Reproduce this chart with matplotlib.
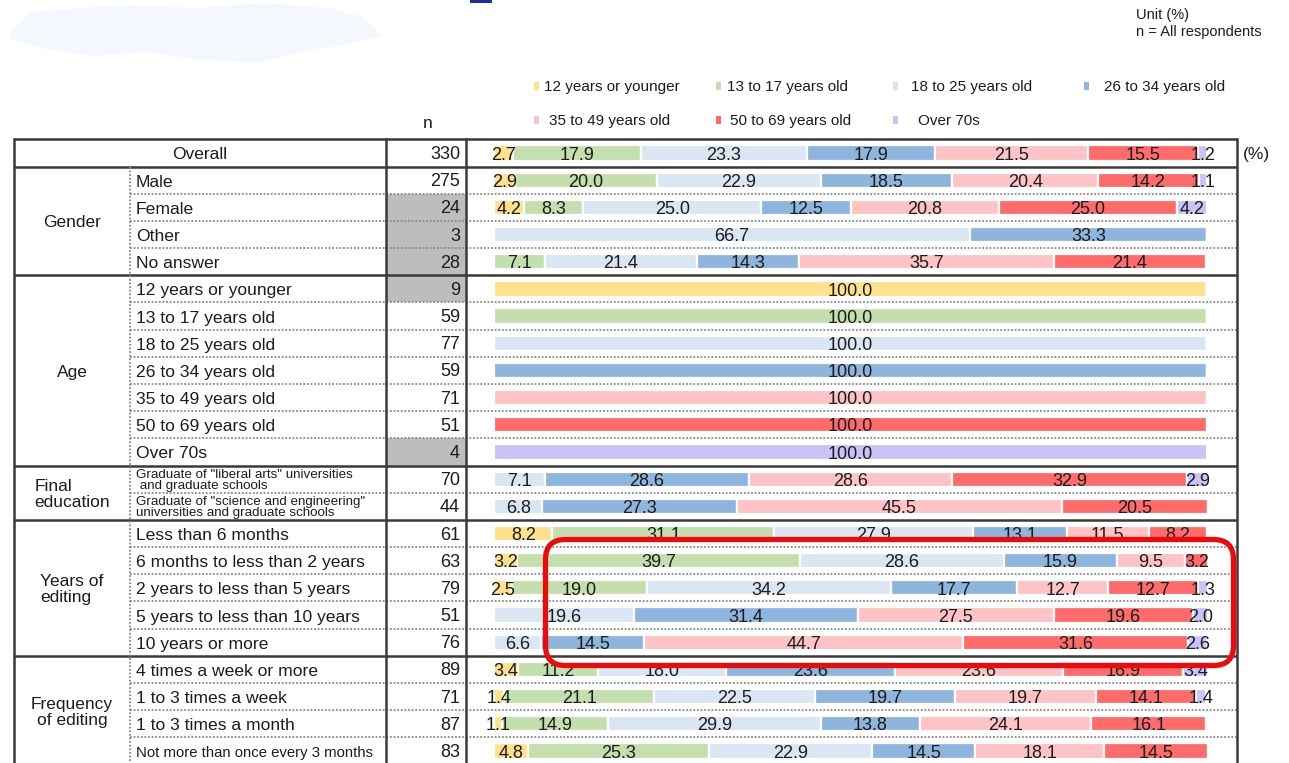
import numpy as np
import matplotlib.pyplot as plt
import matplotlib.patches as patches

plt.rcParams['font.family'] = ['Liberation Sans', 'DejaVu Sans']

# legend / series
categories = ['12 years or younger', '13 to 17 years old', '18 to 25 years old',
              '26 to 34 years old', '35 to 49 years old', '50 to 69 years old', 'Over 70s']
colors = ['#ffe08c', '#c4dfae', '#dae6f4', '#8eb5de', '#ffc3c6', '#ff6b6b', '#c8c3f8']

# table rows
groups = [('', 1), ('Gender', 4), ('Age', 7), ('Final\neducation', 2),
          ('Years of\nediting', 5), ('Frequency\nof editing', 4)]
row_labels = ['Overall', 'Male', 'Female', 'Other', 'No answer',
              '12 years or younger', '13 to 17 years old', '18 to 25 years old',
              '26 to 34 years old', '35 to 49 years old', '50 to 69 years old', 'Over 70s',
              'Graduate of "liberal arts" universities\n and graduate schools',
              'Graduate of "science and engineering"\nuniversities and graduate schools',
              'Less than 6 months', '6 months to less than 2 years',
              '2 years to less than 5 years', '5 years to less than 10 years',
              '10 years or more', '4 times a week or more', '1 to 3 times a week',
              '1 to 3 times a month', 'Not more than once every 3 months']
n_values = [330, 275, 24, 3, 28, 9, 59, 77, 59, 71, 51, 4, 70, 44,
            61, 63, 79, 51, 76, 89, 71, 87, 83]
shaded_n = [2, 3, 4, 5, 11]

shares = [
    [2.7, 17.9, 23.3, 17.9, 21.5, 15.5, 1.2],
    [2.9, 20.0, 22.9, 18.5, 20.4, 14.2, 1.1],
    [4.2, 8.3, 25.0, 12.5, 20.8, 25.0, 4.2],
    [0, 0, 66.7, 33.3, 0, 0, 0],
    [0, 7.1, 21.4, 14.3, 35.7, 21.4, 0],
    [100.0, 0, 0, 0, 0, 0, 0],
    [0, 100.0, 0, 0, 0, 0, 0],
    [0, 0, 100.0, 0, 0, 0, 0],
    [0, 0, 0, 100.0, 0, 0, 0],
    [0, 0, 0, 0, 100.0, 0, 0],
    [0, 0, 0, 0, 0, 100.0, 0],
    [0, 0, 0, 0, 0, 0, 100.0],
    [0, 0, 7.1, 28.6, 28.6, 32.9, 2.9],
    [0, 0, 6.8, 27.3, 45.5, 20.5, 0],
    [8.2, 31.1, 27.9, 13.1, 11.5, 8.2, 0],
    [3.2, 39.7, 28.6, 15.9, 9.5, 3.2, 0],
    [2.5, 19.0, 34.2, 17.7, 12.7, 12.7, 1.3],
    [0, 0, 19.6, 31.4, 27.5, 19.6, 2.0],
    [0, 0, 6.6, 14.5, 44.7, 31.6, 2.6],
    [3.4, 11.2, 18.0, 23.6, 23.6, 16.9, 3.4],
    [1.4, 21.1, 22.5, 19.7, 19.7, 14.1, 1.4],
    [1.1, 14.9, 29.9, 13.8, 24.1, 16.1, 0],
    [4.8, 25.3, 22.9, 14.5, 18.1, 14.5, 0],
]

W, H = 1289, 763
top, pitch = 139.4, 27.18
nrows = len(row_labels)
x_left, x_sub, x_n0, x_n1, x_right = 14, 130, 386, 466, 1237
bar0, bar1 = 494, 1207
dark = '#3a3a3a'
txt = '#1c1c1c'


def yc(i):
    return top + (i + 0.5) * pitch


def yb(i):
    return top + i * pitch


fig = plt.figure(figsize=(W / 100, H / 100), dpi=100)
ax = fig.add_axes([0, 0, 1, 1])
ax.set_xlim(0, W)
ax.set_ylim(H, 0)
ax.axis('off')

# faint blurred blob top-left
blob = [(12, 30), (30, 12), (120, 5), (200, 8), (260, 3), (330, 8), (365, 18), (382, 36),
        (340, 46), (300, 52), (260, 63), (200, 60), (150, 52), (90, 56), (40, 48), (10, 40)]
ax.add_patch(patches.Polygon(blob, closed=True, facecolor='#f4f8fe', edgecolor='none'))
ax.add_patch(patches.Rectangle((470, 0), 22, 3, facecolor='#1f2f8f', edgecolor='none'))

ax.text(1136, 15, 'Unit (%)', fontsize=10.5, color=txt, va='center')
ax.text(1136, 32, 'n = All respondents', fontsize=10.5, color=txt, va='center')

# legend
leg_pos = [(536, 86), (718, 86), (895, 86), (1086, 86),
           (536, 120), (718, 120), (895, 120)]
leg_off = [8, 9, 16, 18, 13, 12, 23]
for (lx, ly), off, lab, col in zip(leg_pos, leg_off, categories, colors):
    ax.add_patch(patches.Rectangle((lx - 2.5, ly - 4), 5, 8, facecolor=col, edgecolor='none'))
    ax.text(lx + off, ly + 1, lab, fontsize=11, color=txt, va='center')

ax.text(428, 123, 'n', fontsize=12.5, color=txt, ha='center', va='center')
ax.text(1243, yc(0) + 1.5, '(%)', fontsize=12.5, color=txt, va='center')

# n column shading
for i in shaded_n:
    ax.add_patch(patches.Rectangle((x_n0, yb(i)), x_n1 - x_n0, pitch,
                                   facecolor='#bdbdbd', edgecolor='none'))

# row labels and n
for i, (lab, n) in enumerate(zip(row_labels, n_values)):
    if i == 0:
        ax.text((x_left + x_n0) / 2, yc(i) + 2, lab, fontsize=12.5, color=txt,
                ha='center', va='center')
    elif '\n' in lab:
        ax.text(x_sub + 6, yc(i) + 1, lab, fontsize=9.6, color=txt, va='center',
                linespacing=0.9)
    elif len(lab) > 30:
        ax.text(x_sub + 6, yc(i) + 2, lab, fontsize=10.7, color=txt, va='center')
    else:
        ax.text(x_sub + 6, yc(i) + 2, lab, fontsize=12.6, color=txt, va='center')
    ax.text(x_n1 - 6, yc(i) + 1.5, str(n), fontsize=13, color=txt, ha='right', va='center')

# group labels and separators
start = 0
major = [0]
for name, size in groups:
    if name:
        mid = (yb(start) + yb(start + size)) / 2
        malign = 'center' if name.startswith('Freq') or '\n' not in name else 'left'
        ax.text(72, mid + 2, name, fontsize=12.5, color=txt, ha='center', va='center',
                multialignment=malign, linespacing=1.1)
    start += size
    major.append(start)

for b in range(nrows + 1):
    y = yb(b)
    if b in major:
        ax.plot([x_left, x_right], [y, y], color=dark, lw=1.8, solid_capstyle='butt')
    else:
        ax.plot([x_sub, x_right], [y, y], color='#8a8a8a', lw=1.3, ls=(0, (1, 1)))

y_end = yb(nrows) + 5
for x in (x_left, x_n0, x_n1, x_right):
    ax.plot([x, x], [yb(0), y_end], color=dark, lw=1.8)
ax.plot([x_sub, x_sub], [yb(1), y_end], color='#8a8a8a', lw=1.3, ls=(0, (1, 1)))

# bars
bx = fig.add_axes([bar0 / W, 1 - (top + nrows * pitch) / H,
                   (bar1 - bar0) / W, nrows * pitch / H])
bx.set_xlim(0, 100)
bx.set_ylim(nrows - 0.5, -0.5)
bx.axis('off')

data = np.array(shares)
rows = np.arange(nrows)
left = np.zeros(nrows)
for k, col in enumerate(colors):
    vals = data[:, k]
    bx.barh(rows, vals, left=left, height=0.56, color=col, edgecolor='white', linewidth=1.6)
    for r in rows:
        if vals[r] > 0:
            bx.text(left[r] + vals[r] / 2, r + 0.08, f'{vals[r]:.1f}', fontsize=13,
                    color=txt, ha='center', va='center')
    left += vals

# highlight box
tx = fig.add_axes([0, 0, 1, 1])
tx.set_xlim(0, W)
tx.set_ylim(H, 0)
tx.axis('off')
tx.add_patch(patches.FancyBboxPatch((545.5, 539.5), 688, 126,
                                    boxstyle='round,pad=0,rounding_size=20',
                                    facecolor='none', edgecolor='#ee0a0a', linewidth=3.8))

fig.savefig('out.png', dpi=100)
